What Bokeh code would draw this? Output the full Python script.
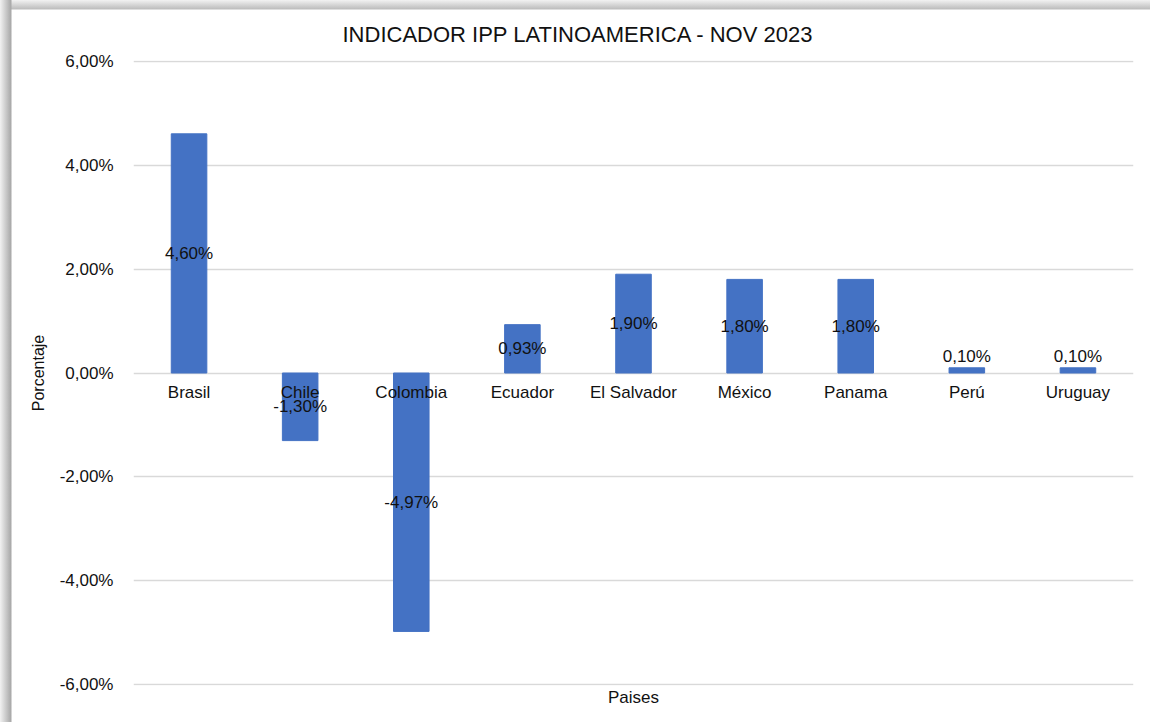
import numpy as np
from bokeh.plotting import figure
from bokeh.models import ColumnDataSource, FactorRange, Title, SingleIntervalTicker, CustomJSTickFormatter
from bokeh.layouts import column
from bokeh.core.properties import value
from bokeh.embed import file_html
from bokeh.resources import INLINE

paises = ["Brasil", "Chile", "Colombia", "Ecuador", "El Salvador", "México", "Panama", "Perú", "Uruguay"]
ipp = [4.60, -1.30, -4.97, 0.93, 1.90, 1.80, 1.80, 0.10, 0.10]

FONT = "Liberation Sans"
TXT = "#111111"

vals = np.array(ipp)
label_y = np.where(np.abs(vals) >= 0.5, vals / 2, vals + 0.22)
labels = [("%.2f%%" % v).replace(".", ",") for v in ipp]

src = ColumnDataSource(dict(x=paises, top=ipp, ly=label_y, lab=labels, zero=[0] * len(paises)))

p = figure(x_range=FactorRange(*paises), y_range=(-6.01, 6.01), width=1150, height=722,
           output_backend="svg", toolbar_location=None,
           min_border_left=133, min_border_right=17, min_border_top=60, min_border_bottom=37)
p.outline_line_color = None
p.background_fill_color = "white"
p.border_fill_color = None

p.vbar(x="x", top="top", bottom=0, width=0.32, source=src, color="#4472C4")

p.text(x="x", y="zero", text="x", source=src, y_offset=19, text_align="center",
       text_baseline="middle", text_font=value(FONT), text_font_size="17px", text_color=TXT)
p.text(x="x", y="ly", text="lab", source=src, text_align="center",
       text_baseline="middle", text_font=value(FONT), text_font_size="17px", text_color=TXT)

p.title = Title(text="INDICADOR IPP LATINOAMERICA  - NOV 2023", align="left", offset=209,
                text_font=FONT, text_font_size="22px", text_font_style="normal", text_color=TXT)
p.title.standoff = 28

p.yaxis.ticker = SingleIntervalTicker(interval=2)
p.yaxis.formatter = CustomJSTickFormatter(code="return tick.toFixed(2).replace('.', ',') + '%';")
p.yaxis.axis_line_color = None
p.yaxis.major_tick_line_color = None
p.yaxis.minor_tick_line_color = None
p.yaxis.major_label_text_font = FONT
p.yaxis.major_label_text_font_size = "17px"
p.yaxis.major_label_text_color = TXT
p.yaxis.major_label_standoff = 14
p.yaxis.axis_label = "Porcentaje"
p.yaxis.axis_label_text_font = FONT
p.yaxis.axis_label_text_font_size = "16px"
p.yaxis.axis_label_text_font_style = "normal"
p.yaxis.axis_label_text_color = TXT
p.yaxis.axis_label_standoff = 10

p.xaxis.visible = False
p.add_layout(Title(text="Paises", align="center", text_font=FONT, text_font_size="17px",
                   text_font_style="normal", text_color=TXT, standoff=0), "below")

p.xgrid.grid_line_color = None
p.ygrid.grid_line_color = "#d9d9d9"
p.ygrid.grid_line_width = 1.5

bg = ("linear-gradient(to right, #f2f2f2 0px, #a8a8a8 11px, rgba(255,255,255,0) 12px), "
      "linear-gradient(to bottom, #f2f2f2 0px, #bdbdbd 9px, #ffffff 10px)")
layout = column(p, styles={"background": bg})

open("out.html", "w").write(file_html(layout, INLINE))
